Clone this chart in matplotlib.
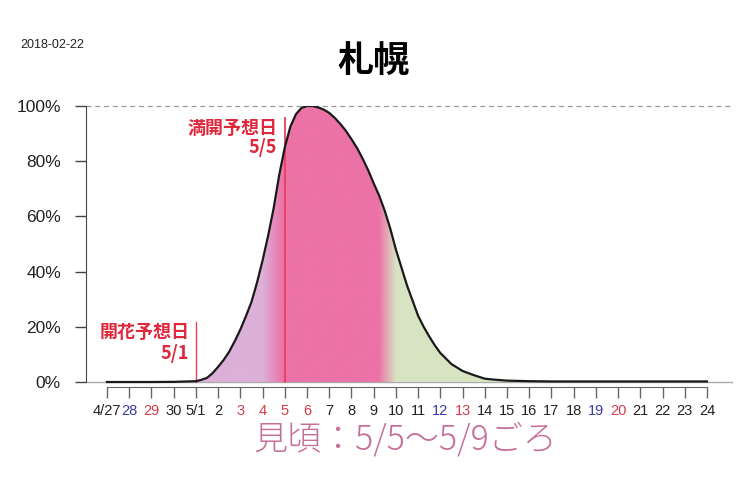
import numpy as np
import matplotlib
matplotlib.use("Agg")
import matplotlib.pyplot as plt
from matplotlib.colors import to_rgb

plt.rcParams['font.family'] = ['Liberation Sans', 'Noto Sans CJK JP', 'DejaVu Sans']

# ---- data ----
tick_labels = ["4/27", "28", "29", "30", "5/1", "2", "3", "4", "5", "6", "7", "8", "9", "10",
               "11", "12", "13", "14", "15", "16", "17", "18", "19", "20", "21", "22", "23", "24"]
tick_colors = ["black", "blue", "red", "black", "black", "black", "red", "red", "red", "red",
               "black", "black", "black", "black", "black", "blue", "red", "black", "black",
               "black", "black", "black", "blue", "red", "black", "black", "black", "black"]
# curve: day index (0 = 4/27) and percent of bloom
curve_day = [0, 1, 2, 3, 4, 4.25, 4.5, 4.75, 5, 5.25, 5.5, 5.75, 6, 6.25, 6.5, 6.75, 7, 7.25,
             7.5, 7.75, 8, 8.25, 8.5, 8.75, 9, 9.25, 9.5, 9.75, 10, 10.25, 10.5, 10.75, 11,
             11.25, 11.5, 11.75, 12, 12.25, 12.5, 12.75, 13, 13.25, 13.5, 13.75, 14, 14.25,
             14.5, 14.75, 15, 15.5, 16, 16.5, 17, 17.5, 18, 19, 20, 21, 22, 23, 24, 25, 26, 27]
curve_pct = [0, 0, 0, 0.05, 0.3, 0.8, 1.5, 3.2, 5.5, 8, 11, 14.8, 19, 23.8, 29, 36, 44, 53,
             63, 75, 85, 92.5, 97, 99.3, 100, 100, 99.5, 98.7, 97.5, 95.7, 93.5, 91, 88,
             84.8, 81, 76.8, 72, 67.5, 62, 55.5, 48, 41.5, 35, 29.5, 24, 20,
             16.5, 13.3, 10.5, 6.5, 4, 2.5, 1.2, 0.8, 0.5, 0.3, 0.2, 0.2, 0.2, 0.2, 0.2, 0.2,
             0.2, 0.2]
kaika_day = 4      # 5/1
mankai_day = 8     # 5/5
yticks = [0, 20, 40, 60, 80, 100]
ytick_labels = ["0%", "20%", "40%", "60%", "80%", "100%"]

BLUE = "#3a3aa8"
RED = "#d83a4a"
cmap_col = {"black": "#222222", "blue": BLUE, "red": RED}

fig = plt.figure(figsize=(7.5, 5), dpi=100)
ax = fig.add_axes([86/750, 1-387/500, (732-86)/750, (387-106)/500])
ax.set_xlim(-0.945, 28.125)
ax.set_ylim(-1.81, 100)

x = np.array(curve_day, float)
y = np.array(curve_pct, float)

# gradient fill clipped by area under curve
poly = ax.fill_between(x, 0, y, color='none', lw=0)
lav = np.array(to_rgb("#dcb0d9"))
pink = np.array(to_rgb("#ec72a7"))
green = np.array(to_rgb("#d7e4c2"))
stops_x = [4.0, 7.0, 7.9, 12.2, 13.0, 27.0]
stops_c = [lav, lav, pink, pink, green, green]
gx = np.linspace(4.0, 27.0, 1200)
img = np.zeros((1, len(gx), 3))
for ch in range(3):
    img[0, :, ch] = np.interp(gx, stops_x, [c[ch] for c in stops_c])
im = ax.imshow(img, extent=[4.0, 27.0, 0, 100], aspect='auto', origin='lower',
               interpolation='bilinear', zorder=1)
path = poly.get_paths()[0]
im.set_clip_path(path, transform=ax.transData)

# baseline and dashed 100% line
ax.plot([-0.945, 28.125], [0, 0], color="#aaaaaa", lw=1.0, zorder=0.5, clip_on=False)
ax.plot([-0.945, 28.125], [100, 100], color="#999999", lw=0.9, ls=(0, (4, 3)), zorder=0.5,
        clip_on=False)

# prediction lines
ax.plot([mankai_day, mankai_day], [0, 95.5], color="#e8405e", lw=1.3, zorder=2)
ax.plot([kaika_day, kaika_day], [0, 21.7], color="#e8405e", lw=1.0, zorder=2)

# curve
ax.plot(x, y, color="#1a1a1a", lw=1.6, zorder=3, solid_joinstyle='round')

# labels
tfont = ['Noto Sans CJK JP', 'DejaVu Sans']
ax.text(mankai_day - 0.35, 92, "満開予想日", ha='right', va='center', color="#e0283c",
        fontsize=13, fontweight='bold', family=tfont, zorder=4,
        bbox=dict(facecolor='white', edgecolor='none', pad=1))
ax.text(mankai_day - 0.35, 85.0, "5/5", ha='right', va='center', color="#e0283c",
        fontsize=13, fontweight='bold', family=tfont, zorder=4)
ax.text(kaika_day - 0.3, 17.8, "開花予想日", ha='right', va='center', color="#e0283c",
        fontsize=13, fontweight='bold', family=tfont, zorder=4)
ax.text(kaika_day - 0.3, 10.2, "5/1", ha='right', va='center', color="#e0283c",
        fontsize=13, fontweight='bold', family=tfont, zorder=4)

# spines / ticks
for s in ['top', 'right']:
    ax.spines[s].set_visible(False)
ax.spines['left'].set_bounds(0, 100)
ax.spines['bottom'].set_bounds(0, 27)
ax.spines['left'].set_color("#444444")
ax.spines['bottom'].set_color("#666666")
ax.set_yticks(yticks)
ax.set_yticklabels(ytick_labels)
ax.tick_params(axis='y', length=8, width=1, color="#444444", pad=10, labelsize=12.5,
               labelcolor="#222222")
ax.set_xticks(range(len(tick_labels)))
ax.set_xticklabels(tick_labels)
ax.tick_params(axis='x', length=8, width=1, color="#666666", pad=4, labelsize=10.5)
for lbl, c in zip(ax.get_xticklabels(), tick_colors):
    lbl.set_color(cmap_col[c])

# texts
fig.text(20/750, 1-45/500, "2018-02-22", fontsize=9, ha='left', va='center', color="#222222")
fig.text(374/750, 1-62/500, "札幌", fontsize=26, fontweight='bold', ha='center', va='center',
         family=tfont, color="black")
fig.text(405/750, 1-440/500, "見頃：5/5〜5/9ごろ", fontsize=24.5, ha='center', va='center',
         family=tfont, fontweight='light', color="#c5709a")

fig.savefig("out.png", dpi=100, facecolor='white')
